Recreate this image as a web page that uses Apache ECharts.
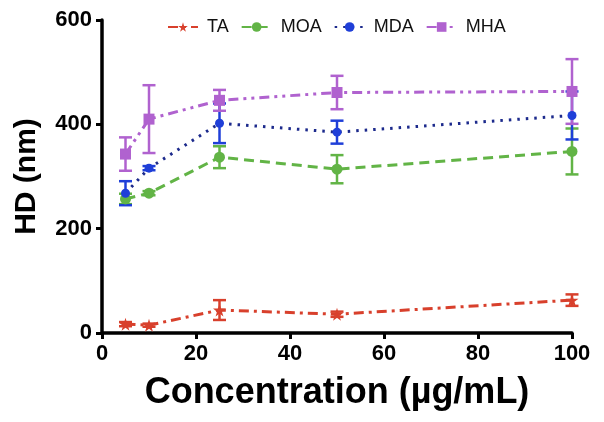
<!DOCTYPE html>
<html><head><meta charset="utf-8">
<script src="https://cdn.jsdelivr.net/npm/echarts@6/dist/echarts.min.js"></script>
<style>html,body{margin:0;padding:0;background:#fff}#c{width:604px;height:422px}</style>
</head><body><div id="c"></div>
<script>
const xValues = [5, 10, 25, 50, 100];
const seriesNames = ['TA', 'MOA', 'MDA', 'MHA'];
const TA = [17, 15, 44, 36, 63];
const TA_err = [4, 3, 19, 5, 11];
const MOA = [257, 268, 337, 314, 348];
const MOA_err = [10, 4, 21, 27, 44];
const MDA = [268, 316, 402, 385, 417];
const MDA_err = [23, 4, 38, 22, 46];
const MHA = [343, 410, 446, 461, 463];
const MHA_err = [32, 65, 20, 32, 62];
const yTicks = [0, 200, 400, 600];
const xTicks = [0, 20, 40, 60, 80, 100];

const colors = {TA:'#d8402c', MOA:'#62b446', MDA:'#1f3fd8', MHA:'#b062cf'};
const lineColors = {TA:'#d8402c', MOA:'#62b446', MDA:'#1c2a8c', MHA:'#b062cf'};
const symbols = {TA:'path://M50,0 L61,35 L98,35 L68,57 L79,91 L50,70 L21,91 L32,57 L2,35 L39,35 Z', MOA:'circle', MDA:'circle', MHA:'rect'};
const symSize = {TA:13, MOA:11, MDA:9, MHA:11};
const dashes = {TA:[10,5,3,5], MOA:[10,6], MDA:[2.5,6], MHA:[10,5,3,5,3,5]};
const vals = {TA, MOA, MDA, MHA};
const errs = {TA:TA_err, MOA:MOA_err, MDA:MDA_err, MHA:MHA_err};

const series = [];
seriesNames.forEach(n => {
  series.push({
    name: n, type: 'line',
    data: xValues.map((x,i)=>[x, vals[n][i]]),
    symbol: symbols[n], symbolSize: symSize[n],
    itemStyle: {color: colors[n]},
    lineStyle: {color: lineColors[n], width: 3, type: dashes[n]},
    z: 3
  });
  series.push({
    name: n, type: 'custom',
    data: xValues.map((x,i)=>[x, vals[n][i] - errs[n][i], vals[n][i] + errs[n][i]]),
    renderItem: function(params, api){
      const lo = api.coord([api.value(0), api.value(1)]);
      const hi = api.coord([api.value(0), api.value(2)]);
      const w = 6.5;
      const st = {stroke: colors[n], lineWidth: 2.5, fill: null};
      return {type:'group', children:[
        {type:'line', shape:{x1:lo[0],y1:lo[1],x2:hi[0],y2:hi[1]}, style:st},
        {type:'line', shape:{x1:lo[0]-w,y1:lo[1],x2:lo[0]+w,y2:lo[1]}, style:st},
        {type:'line', shape:{x1:hi[0]-w,y1:hi[1],x2:hi[0]+w,y2:hi[1]}, style:st}
      ]};
    },
    clip: false, z: 2
  });
});

const chart = echarts.init(document.getElementById('c'));
chart.setOption({
  animation: false,
  textStyle: {fontFamily: 'Liberation Sans'},
  grid: {left: 102, right: 32, top: 20, bottom: 89, containLabel: false, outerBoundsMode: 'none'},
  legend: {
    data: seriesNames, top: 13, left: 162, itemGap: 12, itemWidth: 30, itemHeight: 12,
    textStyle: {fontSize: 18, color: '#111', fontFamily: 'Liberation Sans', padding: [0, 0, 0, 4]}
  },
  xAxis: {
    type: 'value', min: 0, max: 100, interval: 20,
    name: 'Concentration (µg/mL)', nameLocation: 'middle', nameGap: 42,
    nameTextStyle: {fontSize: 36, fontWeight: 'bold', color: '#000'},
    axisLine: {lineStyle: {color: '#000', width: 3.5}},
    axisTick: {show: true, inside: false, length: 6, lineStyle: {width: 3, color:'#000'}},
    axisLabel: {fontSize: 22, fontWeight: 'bold', color: '#000', margin: 10},
    splitLine: {show: false}
  },
  yAxis: {
    type: 'value', min: 0, max: 600, interval: 200,
    name: 'HD (nm)', nameLocation: 'middle', nameGap: 60, nameRotate: 90,
    nameTextStyle: {fontSize: 30, fontWeight: 'bold', color: '#000'},
    axisLine: {show: true, lineStyle: {color: '#000', width: 3.5}},
    axisTick: {show: true, inside: false, length: 6, lineStyle: {width: 3, color:'#000'}},
    axisLabel: {fontSize: 22, fontWeight: 'bold', color: '#000', margin: 10},
    splitLine: {show: false}
  },
  series: series
});
</script></body></html>
